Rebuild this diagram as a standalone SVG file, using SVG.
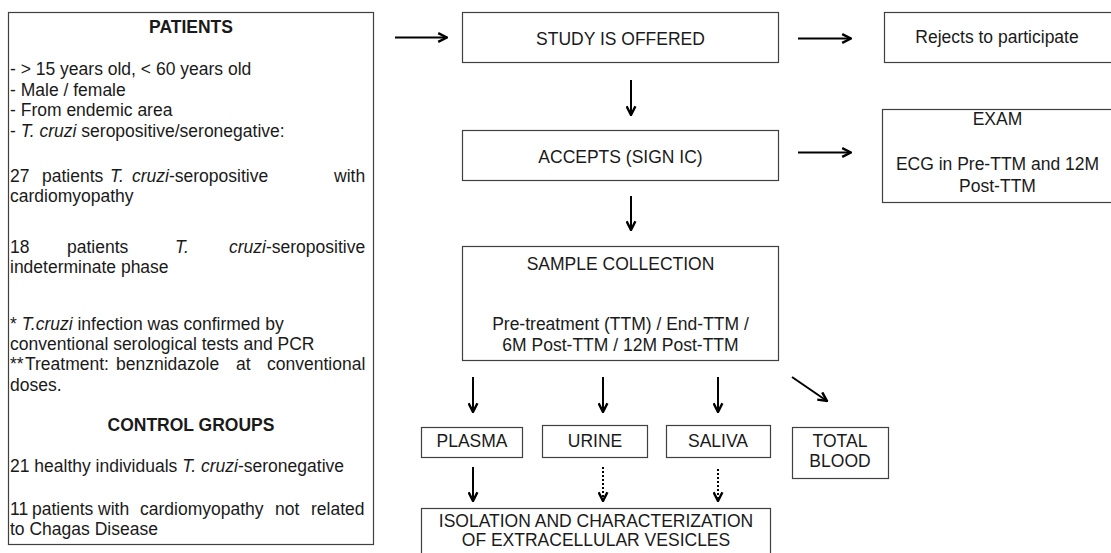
<svg xmlns="http://www.w3.org/2000/svg" width="1111" height="553" viewBox="0 0 1111 553">
<style>
.box{fill:#fff;stroke:#404040;stroke-width:1.2}
text{font-family:"Liberation Sans",Arial,sans-serif;font-size:17.5px;fill:#1a1a1a}
.c{text-anchor:middle}
.b{font-weight:bold}
.i{font-style:italic}
.ar{stroke:#000;stroke-width:2;fill:none;marker-end:url(#ah)}
.dt{stroke:#000;stroke-width:2;fill:none;stroke-dasharray:2 2;marker-end:url(#ah)}
</style>
<defs>
<marker id="ah" viewBox="0 0 10 10" refX="9" refY="5" markerWidth="5.5" markerHeight="5.5" orient="auto" markerUnits="strokeWidth">
<path d="M1,1 L9,5 L1,9" fill="none" stroke="#000" stroke-width="2.2"/>
</marker>
</defs>
<rect width="1111" height="553" fill="#fff"/>

<g id="patients">
<rect class="box" x="8.5" y="12.5" width="365" height="532"/>
<text class="c b" x="191" y="33">PATIENTS</text>
<text x="10" y="75">- &gt; 15 years old, &lt; 60 years old</text>
<text x="10" y="96">- Male / female</text>
<text x="10" y="116">- From endemic area</text>
<text x="10" y="137">- <tspan class="i">T. cruzi</tspan> seropositive/seronegative:</text>
<text y="182"><tspan x="10">27</tspan><tspan x="42">patients</tspan><tspan x="110" class="i">T.</tspan><tspan x="132" class="i">cruzi</tspan>-seropositive<tspan x="334">with</tspan></text>
<text x="10" y="202">cardiomyopathy</text>
<text y="253"><tspan x="10">18</tspan><tspan x="67">patients</tspan><tspan x="175" class="i">T.</tspan><tspan x="229" class="i">cruzi</tspan>-seropositive</text>
<text x="10" y="273">indeterminate phase</text>
<text x="10" y="330">* <tspan class="i">T.cruzi</tspan> infection was confirmed by</text>
<text x="10" y="350">conventional serological tests and PCR</text>
<text y="370"><tspan x="10">**</tspan><tspan x="25">Treatment:</tspan><tspan x="116">benznidazole</tspan><tspan x="236">at</tspan><tspan x="267">conventional</tspan></text>
<text x="10" y="391">doses.</text>
<text class="c b" x="191" y="431">CONTROL GROUPS</text>
<text x="10" y="472">21 healthy individuals <tspan class="i">T. cruzi</tspan>-seronegative</text>
<text y="515"><tspan x="10">11</tspan><tspan x="32">patients</tspan><tspan x="98">with</tspan><tspan x="140">cardiomyopathy</tspan><tspan x="275">not</tspan><tspan x="311">related</tspan></text>
<text x="10" y="535">to Chagas Disease</text>
</g>

<g id="study">
<rect class="box" x="462.5" y="12.5" width="316" height="50"/>
<text class="c" x="620.5" y="45">STUDY IS OFFERED</text>
</g>
<g id="rejects">
<rect class="box" x="884.5" y="12.5" width="240" height="50"/>
<text class="c" x="997" y="43">Rejects to participate</text>
</g>
<g id="accepts">
<rect class="box" x="462.5" y="130.5" width="316" height="50"/>
<text class="c" x="620.5" y="163">ACCEPTS (SIGN IC)</text>
</g>
<g id="exam">
<rect class="box" x="882.5" y="109.5" width="240" height="93"/>
<text class="c" x="997.5" y="125">EXAM</text>
<text class="c" x="997.5" y="170">ECG in Pre-TTM and 12M</text>
<text class="c" x="997.5" y="192">Post-TTM</text>
</g>
<g id="sample">
<rect class="box" x="462.5" y="246.5" width="316" height="114"/>
<text class="c" x="620.5" y="270">SAMPLE COLLECTION</text>
<text class="c" x="620.5" y="330">Pre-treatment (TTM) / End-TTM /</text>
<text class="c" x="620.5" y="351">6M Post-TTM / 12M Post-TTM</text>
</g>
<g id="plasma">
<rect class="box" x="421.5" y="427.5" width="101" height="30"/>
<text class="c" x="472" y="447">PLASMA</text>
</g>
<g id="urine">
<rect class="box" x="542.5" y="425.5" width="105" height="32"/>
<text class="c" x="595" y="447">URINE</text>
</g>
<g id="saliva">
<rect class="box" x="666.5" y="425.5" width="104" height="32"/>
<text class="c" x="718" y="447">SALIVA</text>
</g>
<g id="totalblood">
<rect class="box" x="792.5" y="427.5" width="96" height="51"/>
<text class="c" x="840" y="447">TOTAL</text>
<text class="c" x="840" y="467">BLOOD</text>
</g>
<g id="isolation">
<rect class="box" x="421.5" y="508.5" width="349" height="60"/>
<text class="c" x="596" y="527">ISOLATION AND CHARACTERIZATION</text>
<text class="c" x="596" y="546">OF EXTRACELLULAR VESICLES</text>
</g>

<g id="connectors">
<line class="ar" x1="395" y1="37.5" x2="447" y2="37.5"/>
<line class="ar" x1="798" y1="38.5" x2="851" y2="38.5"/>
<line class="ar" x1="798" y1="152.5" x2="851" y2="152.5"/>
<line class="ar" x1="631" y1="80" x2="631" y2="115"/>
<line class="ar" x1="631" y1="196" x2="631" y2="230"/>
<line class="ar" x1="473" y1="377" x2="473" y2="412"/>
<line class="ar" x1="603" y1="377" x2="603" y2="412"/>
<line class="ar" x1="718" y1="377" x2="718" y2="412"/>
<line class="ar" x1="792" y1="377" x2="827" y2="401"/>
<line class="ar" x1="473" y1="467" x2="473" y2="501"/>
<line class="dt" x1="603" y1="467" x2="603" y2="501"/>
<line class="dt" x1="718" y1="469" x2="718" y2="501"/>
</g>
</svg>
